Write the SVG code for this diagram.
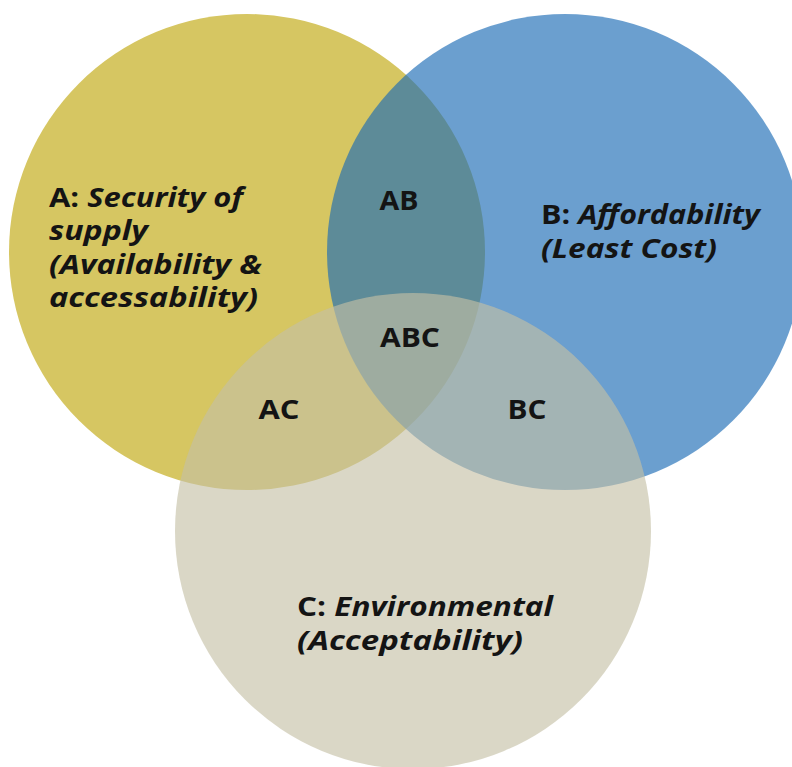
<svg xmlns="http://www.w3.org/2000/svg" width="792" height="767" viewBox="0 0 792 767">
<style>
.lbl{font-family:"Open Sans","Liberation Sans",sans-serif;font-weight:700;fill:#141414;font-size:26px}
.it{font-style:italic}
.ov{font-family:"Open Sans","Liberation Sans",sans-serif;font-weight:700;fill:#141414;font-size:27px;text-anchor:middle}
</style>
<rect width="792" height="767" fill="#ffffff"/>
<g id="node-A">
<circle cx="247" cy="252" r="238" fill="#D6C662"/>
<text class="lbl" x="49" y="207" textLength="194" lengthAdjust="spacingAndGlyphs">A: <tspan class="it">Security of</tspan></text>
<text class="lbl it" x="49" y="240" textLength="99" lengthAdjust="spacingAndGlyphs">supply</text>
<text class="lbl it" x="49" y="274" textLength="213" lengthAdjust="spacingAndGlyphs">(Availability &amp;</text>
<text class="lbl it" x="49" y="307" textLength="209" lengthAdjust="spacingAndGlyphs">accessability)</text>
</g>
<g id="node-B">
<circle cx="565" cy="252" r="238" fill="#1B6BB5" fill-opacity="0.65"/>
<text class="lbl" x="541" y="224" textLength="219" lengthAdjust="spacingAndGlyphs">B: <tspan class="it">Affordability</tspan></text>
<text class="lbl it" x="541" y="258" textLength="176" lengthAdjust="spacingAndGlyphs">(Least Cost)</text>
</g>
<g id="node-C">
<circle cx="413" cy="531" r="238" fill="#C4C0A5" fill-opacity="0.63"/>
<text class="lbl" x="297" y="616" textLength="256" lengthAdjust="spacingAndGlyphs">C: <tspan class="it">Environmental</tspan></text>
<text class="lbl it" x="297" y="650" textLength="226" lengthAdjust="spacingAndGlyphs">(Acceptability)</text>
</g>
<g id="connectors"></g>
<g id="node-AB"><text class="ov" x="399" y="210" textLength="39" lengthAdjust="spacingAndGlyphs">AB</text></g>
<g id="node-ABC"><text class="ov" x="410" y="347" textLength="60" lengthAdjust="spacingAndGlyphs">ABC</text></g>
<g id="node-AC"><text class="ov" x="279" y="419" textLength="41" lengthAdjust="spacingAndGlyphs">AC</text></g>
<g id="node-BC"><text class="ov" x="527" y="419" textLength="39" lengthAdjust="spacingAndGlyphs">BC</text></g>
</svg>
